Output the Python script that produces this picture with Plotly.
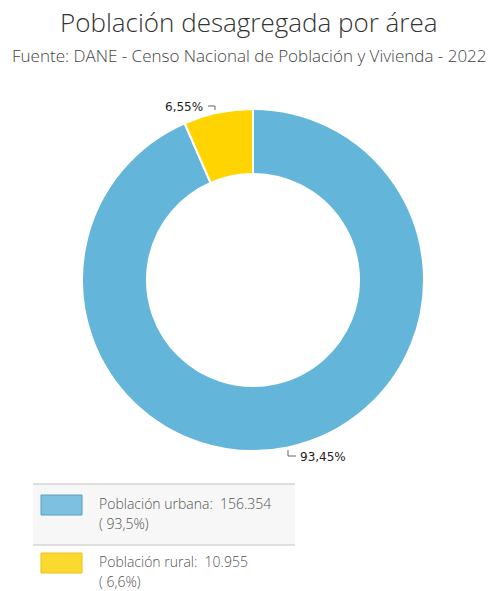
import plotly.graph_objects as go
from decimal import Decimal, ROUND_HALF_UP

categories = ["Población urbana", "Población rural"]
values = [156354, 10955]
colors = ["#64B5DA", "#FFD400"]
legend_colors = ["#7EC0E0", "#FCD92E"]
legend_borders = ["#5A9EC0", "#E8C21A"]

W, H = 498, 591
total = sum(values)
pcts = [v / total * 100 for v in values]


def fx(x):
    return x / W


def fy(y):
    return 1 - y / H


def fmt_int(v):
    return f"{v:,}".replace(",", ".")


def fmt_pct(p, d):
    q = Decimal(f"{p:.2f}").quantize(Decimal(1).scaleb(-d), rounding=ROUND_HALF_UP)
    return str(q).replace(".", ",") + "%"


FONT = "Open Sans"

fig = go.Figure()
fig.add_trace(go.Pie(
    labels=categories,
    values=values,
    hole=0.62,
    sort=False,
    direction="clockwise",
    rotation=0,
    marker=dict(colors=colors, line=dict(color="white", width=2)),
    textinfo="none",
    hoverinfo="label+value+percent",
    showlegend=False,
    domain=dict(x=[fx(82), fx(424)], y=[fy(451), fy(109)]),
))

shapes = []
annotations = []

# titles
annotations.append(dict(x=0.5, y=fy(22), xref="paper", yref="paper", text="Población desagregada por área",
                        showarrow=False, xanchor="center", yanchor="middle",
                        font=dict(family=FONT, size=26, color="#333333", weight=300)))
annotations.append(dict(x=0.5, y=fy(56), xref="paper", yref="paper",
                        text="Fuente: DANE - Censo Nacional de Población y Vivienda - 2022",
                        showarrow=False, xanchor="center", yanchor="middle",
                        font=dict(family=FONT, size=17, color="#444444", weight=300)))

# slice labels with leader hooks
annotations.append(dict(x=fx(205), y=fy(107), xref="paper", yref="paper", text=fmt_pct(pcts[1], 2),
                        showarrow=False, xanchor="right", yanchor="middle",
                        font=dict(family="DejaVu Sans", size=12, color="#222222")))
shapes.append(dict(type="path", xref="paper", yref="paper",
                   path=f"M {fx(208)} {fy(106)} L {fx(215)} {fy(106)} L {fx(215)} {fy(110)}",
                   line=dict(color="#666666", width=1)))
annotations.append(dict(x=fx(298), y=fy(457), xref="paper", yref="paper", text=fmt_pct(pcts[0], 2),
                        showarrow=False, xanchor="left", yanchor="middle",
                        font=dict(family="DejaVu Sans", size=12, color="#222222")))
shapes.append(dict(type="path", xref="paper", yref="paper",
                   path=f"M {fx(288)} {fy(450)} L {fx(288)} {fy(456)} L {fx(296)} {fy(456)}",
                   line=dict(color="#666666", width=1)))

# legend box
shapes.append(dict(type="rect", xref="paper", yref="paper", x0=fx(33), x1=fx(295), y0=fy(545), y1=fy(484),
                   fillcolor="#F7F7F7", line=dict(width=0), layer="below"))
for yy in (484, 545):
    shapes.append(dict(type="line", xref="paper", yref="paper", x0=fx(33), x1=fx(295), y0=fy(yy), y1=fy(yy),
                       line=dict(color="#D4D4D4", width=1.5)))
row_tops = [495, 553]
for i, cat in enumerate(categories):
    t = row_tops[i]
    shapes.append(dict(type="rect", xref="paper", yref="paper", x0=fx(41), x1=fx(82), y0=fy(t + 20), y1=fy(t),
                       fillcolor=legend_colors[i], line=dict(color=legend_borders[i], width=1)))
    annotations.append(dict(x=fx(97), y=fy(t + 8), xref="paper", yref="paper",
                            text=f"{cat}:  {fmt_int(values[i])}", showarrow=False,
                            xanchor="left", yanchor="middle",
                            font=dict(family=FONT, size=14, color="#555555", weight=300)))
    annotations.append(dict(x=fx(97), y=fy(t + 28), xref="paper", yref="paper",
                            text=f"( {fmt_pct(pcts[i], 1)})", showarrow=False,
                            xanchor="left", yanchor="middle",
                            font=dict(family=FONT, size=14, color="#555555", weight=300)))

fig.update_layout(
    width=W, height=H,
    margin=dict(l=0, r=0, t=0, b=0),
    paper_bgcolor="white",
    plot_bgcolor="white",
    shapes=shapes,
    annotations=annotations,
)

fig.write_html("out.html", config={"displayModeBar": False},
               post_script="document.body.style.margin='0px';document.body.style.overflow='hidden';")
